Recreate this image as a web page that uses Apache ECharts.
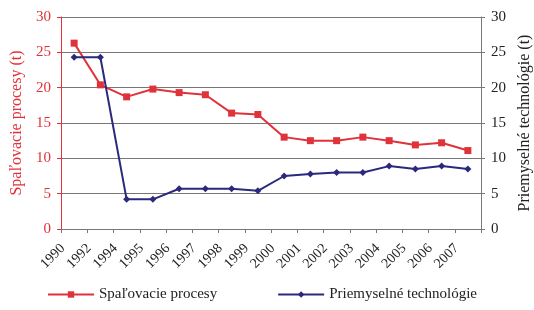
<!DOCTYPE html>
<html>
	<head>
		<meta charset="utf-8">
		<title>ECharts</title>
		<style>
		html,body { height:100%; width:100%; margin:0; padding:0; background:#fff; }
		</style>
		<script src="https://cdn.jsdelivr.net/npm/echarts@6/dist/echarts.min.js"></script>
	</head>
	<body>
		<div id="chart" style="width:534px;height:310px;"></div>
		<script type="text/javascript">
			var years = ['1990','1992','1994','1995','1996','1997','1998','1999','2000','2001','2002','2003','2004','2005','2006','2007'];
			var spalovacie = [26.3, 20.4, 18.7, 19.8, 19.3, 19.0, 16.4, 16.2, 13.0, 12.5, 12.5, 13.0, 12.5, 11.9, 12.2, 11.1];
			var priemyselne = [24.3, 24.3, 4.2, 4.2, 5.7, 5.7, 5.7, 5.4, 7.5, 7.8, 8.0, 8.0, 8.9, 8.5, 8.9, 8.5];
			var names = ['Spaľovacie procesy', 'Priemyselné technológie'];

			var red = '#e0323a';
			var blue = '#2a2a7c';
			var font = 'Liberation Serif';

			var myChart = echarts.init(document.getElementById('chart'));
			var option = {
				animation: false,
				textStyle: { fontFamily: font },
				grid: { left: 61, right: 53, top: 17, bottom: 81, outerBoundsMode: 'none', containLabel: false },
				legend: {
					bottom: 3,
					left: 42,
					itemGap: 60,
					itemWidth: 46,
					itemHeight: 8,
					textStyle: { fontFamily: font, fontSize: 15, color: '#222' },
					data: names
				},
				xAxis: {
					type: 'category',
					data: years,
					boundaryGap: true,
					axisLine: { lineStyle: { color: '#777' } },
					axisTick: { show: true, length: 4, lineStyle: { color: '#777' } },
					axisLabel: { rotate: 45, fontSize: 14, color: '#222', margin: 6, fontFamily: font, padding: [0, 16, 0, 0] }
				},
				yAxis: [{
					type: 'value',
					min: 0, max: 30, interval: 5,
					name: 'Spaľovacie procesy (t)',
					nameLocation: 'middle',
					nameGap: 34,
					nameTextStyle: { color: red, fontSize: 16, fontFamily: font },
					axisLine: { show: true, lineStyle: { color: red } },
					axisTick: { show: true, length: 4, lineStyle: { color: red } },
					axisLabel: { color: red, fontSize: 15, fontFamily: font, margin: 10 },
					splitLine: { lineStyle: { color: '#777' } }
				}, {
					type: 'value',
					min: 0, max: 30, interval: 5,
					name: 'Priemyselné technológie (t)',
					nameLocation: 'middle',
					nameGap: 34,
					nameRotate: 90,
					nameTextStyle: { color: '#222', fontSize: 16, fontFamily: font },
					axisLine: { show: true, lineStyle: { color: '#777' } },
					axisTick: { show: true, length: 4, lineStyle: { color: '#777' } },
					axisLabel: { color: '#222', fontSize: 15, fontFamily: font, margin: 10 },
					splitLine: { show: false }
				}],
				series: [{
					name: names[0],
					type: 'line',
					data: spalovacie,
					yAxisIndex: 0,
					symbol: 'rect',
					symbolSize: 7,
					itemStyle: { color: red },
					lineStyle: { color: red, width: 2 }
				}, {
					name: names[1],
					type: 'line',
					data: priemyselne,
					yAxisIndex: 1,
					symbol: 'diamond',
					symbolSize: 7,
					itemStyle: { color: blue },
					lineStyle: { color: blue, width: 2 }
				}]
			};
			myChart.setOption(option);
		</script>
	</body>
</html>
